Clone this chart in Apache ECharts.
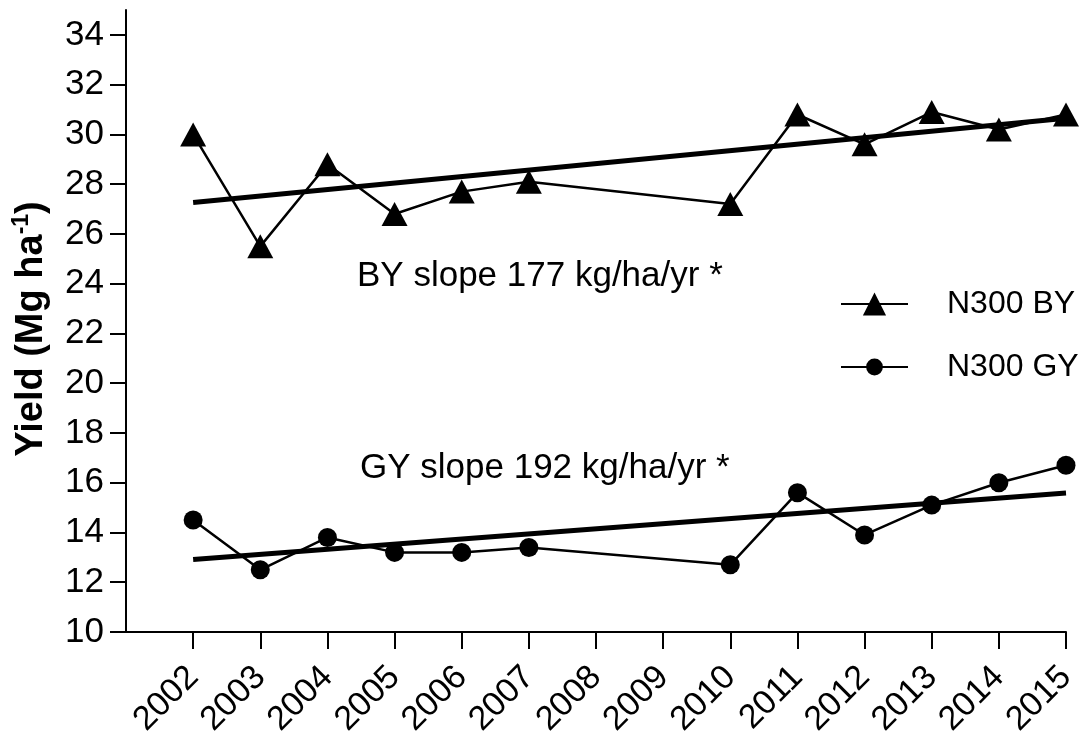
<!DOCTYPE html>
<html>
<head>
<meta charset="utf-8">
<title>N300 yield trends</title>
<script src="https://cdn.jsdelivr.net/npm/echarts@6/dist/echarts.min.js"></script>
<style>
  html, body { margin: 0; padding: 0; background: #fff; }
  #chart { width: 1088px; height: 742px; }
</style>
</head>
<body>
<div id="chart"></div>
<script>
// Harvest years with observations (no data for 2008 and 2009)
const years = [2002, 2003, 2004, 2005, 2006, 2007, 2010, 2011, 2012, 2013, 2014, 2015];
// N300 biomass yield, Mg/ha
const byYield = [30.0, 25.5, 28.8, 26.8, 27.7, 28.1, 27.2, 30.8, 29.6, 30.9, 30.2, 30.8];
// N300 grain yield, Mg/ha
const gyYield = [14.5, 12.5, 13.8, 13.2, 13.2, 13.4, 12.7, 15.6, 13.9, 15.1, 16.0, 16.7];
// Linear trend end points (first and last year)
const trendYears = [2002, 2015];
const byTrend = [27.26, 30.65];
const gyTrend = [12.91, 15.59];
// Axis ticks
const yearTicks = [2002, 2003, 2004, 2005, 2006, 2007, 2008, 2009, 2010, 2011, 2012, 2013, 2014, 2015];
const yieldTicks = [10, 12, 14, 16, 18, 20, 22, 24, 26, 28, 30, 32, 34];

const FONT = '"Liberation Sans", Arial, Helvetica, sans-serif';
const pairs = (xs, ys) => xs.map((x, i) => [x, ys[i]]);

const chart = echarts.init(document.getElementById('chart'), null, { renderer: 'canvas' });

const legendText = { color: '#000', fontFamily: FONT, fontSize: 32, padding: [0, 0, 0, 34] };

chart.setOption({
  animation: false,
  backgroundColor: '#fff',
  grid: { left: 126, right: 22, top: 10, bottom: 110, containLabel: false },
  xAxis: {
    type: 'value',
    min: 2001,
    max: 2015,
    interval: 1,
    splitLine: { show: false },
    axisLine: { show: true, onZero: false, lineStyle: { color: '#000', width: 2 } },
    axisTick: { show: true, length: 17, lineStyle: { color: '#000', width: 2 }, customValues: yearTicks },
    axisLabel: {
      customValues: yearTicks,
      rotate: 45,
      margin: 40,
      color: '#000',
      fontFamily: FONT,
      fontSize: 34,
      formatter: v => String(v)
    }
  },
  yAxis: {
    type: 'value',
    min: 10,
    max: 35,
    interval: 2,
    splitLine: { show: false },
    axisLine: { show: true, lineStyle: { color: '#000', width: 2 } },
    axisTick: { show: true, length: 16, lineStyle: { color: '#000', width: 2 }, customValues: yieldTicks },
    axisLabel: { customValues: yieldTicks, margin: 22, color: '#000', fontFamily: FONT, fontSize: 35 },
    name: '{b|Yield (Mg ha}{s|-1}{b|)}',
    nameLocation: 'middle',
    nameRotate: 90,
    nameGap: 72,
    nameTextStyle: {
      padding: [0, 16, 0, 0],
      rich: {
        b: { fontFamily: FONT, fontSize: 38, fontWeight: 'bold', color: '#000', lineHeight: 44 },
        s: { fontFamily: FONT, fontSize: 23, fontWeight: 'bold', color: '#000', verticalAlign: 'top', lineHeight: 44, padding: [0, 0, 16, 0] }
      }
    }
  },
  legend: [
    {
      data: ['N300 BY'],
      left: 835,
      top: 283,
      itemWidth: 67,
      itemHeight: 29,
      textStyle: legendText,
      selectedMode: false
    },
    {
      data: ['N300 GY'],
      left: 835,
      top: 346,
      itemWidth: 67,
      itemHeight: 21,
      textStyle: legendText,
      selectedMode: false
    }
  ],
  graphic: [
    {
      type: 'text', left: 357, top: 259, silent: true,
      style: { text: 'BY slope 177 kg/ha/yr *', fill: '#000', font: '35px ' + FONT }
    },
    {
      type: 'text', left: 360, top: 451, silent: true,
      style: { text: 'GY slope 192 kg/ha/yr *', fill: '#000', font: '35px ' + FONT }
    }
  ],
  series: [
    {
      name: 'N300 BY trend',
      type: 'line',
      data: pairs(trendYears, byTrend),
      showSymbol: false,
      symbol: 'none',
      lineStyle: { color: '#000', width: 5 },
      z: 2
    },
    {
      name: 'N300 GY trend',
      type: 'line',
      data: pairs(trendYears, gyTrend),
      showSymbol: false,
      symbol: 'none',
      lineStyle: { color: '#000', width: 5 },
      z: 2
    },
    {
      name: 'N300 BY',
      type: 'line',
      data: pairs(years, byYield),
      symbol: 'triangle',
      symbolSize: [26, 24],
      itemStyle: { color: '#000', borderWidth: 0 },
      lineStyle: { color: '#000', width: 2.5 },
      z: 3
    },
    {
      name: 'N300 GY',
      type: 'line',
      data: pairs(years, gyYield),
      symbol: 'circle',
      symbolSize: 19,
      itemStyle: { color: '#000', borderWidth: 0 },
      lineStyle: { color: '#000', width: 2.5 },
      z: 3
    }
  ]
});
</script>
</body>
</html>
